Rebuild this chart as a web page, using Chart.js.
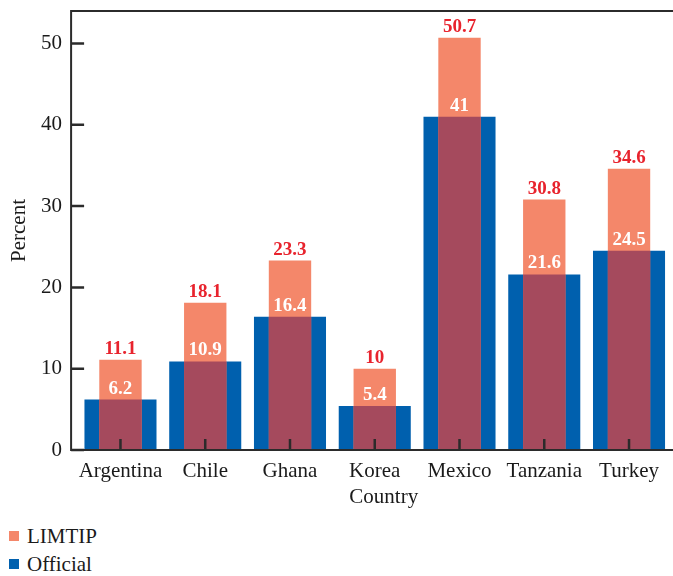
<!DOCTYPE html>
<html>
<head>
<meta charset="utf-8">
<script src="https://cdn.jsdelivr.net/npm/chart.js@4.4.1/dist/chart.umd.min.js"></script>
<style>
  html, body { margin: 0; padding: 0; background: #fff; overflow: hidden; }
  #wrap { position: relative; width: 673px; height: 576px; }
  canvas { position: absolute; left: 0; top: 0; }
  #legend { position: absolute; left: 9px; top: 522px; font: 21px "Liberation Serif", serif; color: #1a1a1a; }
  .item { display: flex; align-items: center; height: 28px; }
  .sw { width: 10px; height: 10px; margin-right: 8px; }
</style>
</head>
<body>
<div id="wrap">
  <canvas id="c" width="673" height="515"></canvas>
  <div id="legend"></div>
</div>
<script>
// Poverty rates by country: LIMTIP measure vs. official measure (percent)
const countries = ['Argentina', 'Chile', 'Ghana', 'Korea', 'Mexico', 'Tanzania', 'Turkey'];
const limtip    = [11.1, 18.1, 23.3, 10, 50.7, 30.8, 34.6];
const official  = [6.2, 10.9, 16.4, 5.4, 41, 21.6, 24.5];
const yTicks    = [0, 10, 20, 30, 40, 50];

// Portion of each LIMTIP bar that sits over the official bar
const overlap = countries.map((_, i) => Math.min(limtip[i], official[i]));

const FONT = '"Liberation Serif", serif';
const INK = '#1a1a1a';
const AXIS_GAP = 7;   // space between the axis frame and the first/last category band

Chart.defaults.font.family = FONT;
Chart.defaults.font.size = 21;
Chart.defaults.color = INK;

const decorations = {
  id: 'decorations',
  afterDatasetsDraw(chart) {
    const { ctx, chartArea, scales: { x, y } } = chart;
    const left = chartArea.left - AXIS_GAP;
    const right = chart.width;
    ctx.save();

    // value labels
    ctx.textAlign = 'center';
    ctx.textBaseline = 'alphabetic';
    ctx.font = 'bold 19px ' + FONT;
    [[0, '#e8232d'], [1, '#ffffff']].forEach(([di, color]) => {
      const values = chart.data.datasets[di].data;
      ctx.fillStyle = color;
      chart.getDatasetMeta(di).data.forEach((bar, j) => {
        ctx.fillText(String(values[j]), bar.x, bar.y - 6);
      });
    });

    // frame
    ctx.strokeStyle = '#2b2b2b';
    ctx.lineWidth = 2;
    ctx.beginPath();
    ctx.moveTo(right, chartArea.top);
    ctx.lineTo(left, chartArea.top);
    ctx.lineTo(left, chartArea.bottom);
    ctx.lineTo(right, chartArea.bottom);
    ctx.stroke();

    // inward tick marks
    ctx.lineWidth = 2.5;
    ctx.beginPath();
    yTicks.forEach(v => {
      const py = y.getPixelForValue(v);
      ctx.moveTo(left, py);
      ctx.lineTo(left + 13, py);
    });
    countries.forEach((_, i) => {
      const px = x.getPixelForValue(i);
      ctx.moveTo(px, chartArea.bottom);
      ctx.lineTo(px, chartArea.bottom - 11);
    });
    ctx.stroke();

    // x axis title
    ctx.font = '21px ' + FONT;
    ctx.fillStyle = INK;
    ctx.fillText('Country', (chartArea.left + chartArea.right) / 2 + 9, chartArea.bottom + 53);
    ctx.restore();
  }
};

const chart = new Chart(document.getElementById('c'), {
  type: 'bar',
  data: {
    labels: countries,
    datasets: [
      { label: 'LIMTIP', data: limtip, backgroundColor: '#f4876a', barPercentage: 0.5, order: 1 },
      { label: 'Official', data: official, backgroundColor: '#0060ae', barPercentage: 0.85, order: 2 },
      { label: 'overlap', data: overlap, backgroundColor: '#a54a5d', barPercentage: 0.5, order: 0, inLegend: false }
    ]
  },
  options: {
    responsive: false,
    animation: false,
    devicePixelRatio: 1,
    layout: { padding: { top: 11, right: 1.6, left: 0, bottom: 0 } },
    datasets: { bar: { grouped: false, categoryPercentage: 1, borderWidth: 0 } },
    plugins: { legend: { display: false }, tooltip: { enabled: false } },
    scales: {
      x: {
        offset: true,
        grid: { display: false, drawTicks: false },
        border: { display: false },
        ticks: { padding: 9, color: INK, maxRotation: 0, minRotation: 0, autoSkip: false },
        afterFit(s) { s.height = 65; s.paddingLeft = 0; s.paddingRight = 0; }
      },
      y: {
        min: 0,
        max: 54,
        grid: { display: false, drawTicks: false },
        border: { display: false },
        ticks: { padding: 16, color: INK },
        afterBuildTicks(s) { s.ticks = yTicks.map(v => ({ value: v })); },
        afterFit(s) { s.width = 78.1; s.paddingTop = 0; s.paddingBottom = 0; },
        title: { display: true, text: 'Percent', color: INK, padding: { top: 7, bottom: 0 } }
      }
    }
  },
  plugins: [decorations]
});

// legend, stacked vertically below the chart
const legend = document.getElementById('legend');
chart.data.datasets.filter(d => d.inLegend !== false).forEach(d => {
  const row = document.createElement('div');
  row.className = 'item';
  const sw = document.createElement('span');
  sw.className = 'sw';
  sw.style.background = d.backgroundColor;
  const label = document.createElement('span');
  label.textContent = d.label;
  row.appendChild(sw);
  row.appendChild(label);
  legend.appendChild(row);
});
</script>
</body>
</html>
